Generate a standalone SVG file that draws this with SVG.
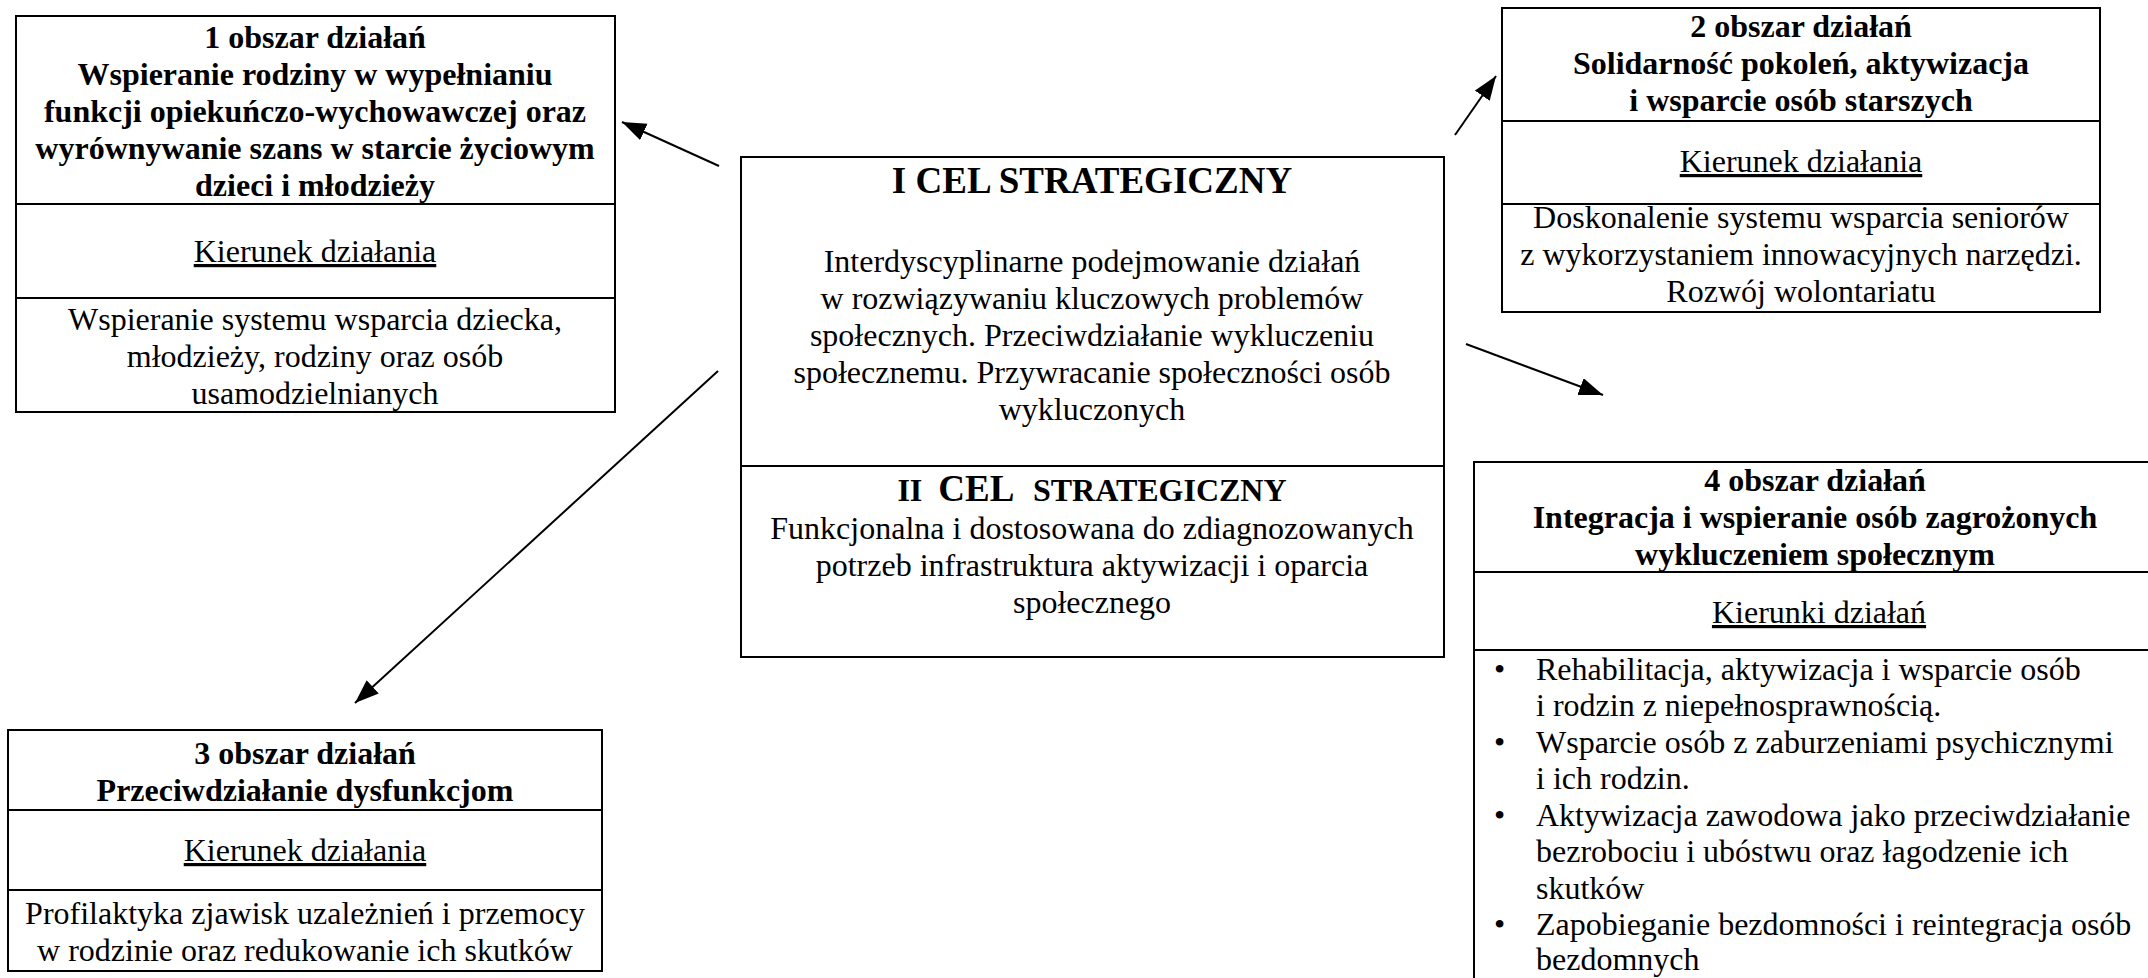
<svg xmlns="http://www.w3.org/2000/svg" width="2148" height="978" viewBox="0 0 2148 978">
<style>
.box{fill:#fff;stroke:#000;stroke-width:2}
.div{stroke:#000;stroke-width:2}
text{font-family:"Liberation Serif","Times New Roman",serif;font-size:32px;fill:#000;text-anchor:middle}
.b{font-weight:bold}
.u{text-decoration:underline}
.l{text-anchor:start}
.conn{stroke:#000;stroke-width:2;fill:none}
</style>
<defs>
<marker id="ah" markerUnits="userSpaceOnUse" markerWidth="26" markerHeight="20" refX="24" refY="9" orient="auto">
<path d="M0,0 L24,9 L0,18 Z" fill="#000"/>
</marker>
</defs>
<rect width="2148" height="978" fill="#fff"/>

<g id="node1">
<rect class="box" x="16" y="16" width="599" height="396"/>
<line class="div" x1="16" y1="204" x2="615" y2="204"/>
<line class="div" x1="16" y1="298" x2="615" y2="298"/>
<text class="b" x="315" y="48">1 obszar działań</text>
<text class="b" x="315" y="85">Wspieranie rodziny w wypełnianiu</text>
<text class="b" x="315" y="122">funkcji opiekuńczo-wychowawczej oraz</text>
<text class="b" x="315" y="159">wyrównywanie szans w starcie życiowym</text>
<text class="b" x="315" y="196">dzieci i młodzieży</text>
<text class="u" x="315" y="262">Kierunek działania</text>
<text x="315" y="330">Wspieranie systemu wsparcia dziecka,</text>
<text x="315" y="367">młodzieży, rodziny oraz osób</text>
<text x="315" y="404">usamodzielnianych</text>
</g>

<g id="center">
<rect class="box" x="741" y="157" width="703" height="500"/>
<line class="div" x1="741" y1="466" x2="1444" y2="466"/>
<text class="b" x="1092" y="193" style="font-size:37px">I CEL STRATEGICZNY</text>
<text x="1092" y="272">Interdyscyplinarne podejmowanie działań</text>
<text x="1092" y="309">w rozwiązywaniu kluczowych problemów</text>
<text x="1092" y="346">społecznych. Przeciwdziałanie wykluczeniu</text>
<text x="1092" y="383">społecznemu. Przywracanie społeczności osób</text>
<text x="1092" y="420">wykluczonych</text>
<text class="b" x="1092" y="501"><tspan style="font-size:32px">II&#160; </tspan><tspan style="font-size:37px">CEL&#160; </tspan><tspan style="font-size:32px">STRATEGICZNY</tspan></text>
<text x="1092" y="539">Funkcjonalna i dostosowana do zdiagnozowanych</text>
<text x="1092" y="576">potrzeb infrastruktura aktywizacji i oparcia</text>
<text x="1092" y="613">społecznego</text>
</g>

<g id="node2">
<rect class="box" x="1502" y="8" width="598" height="304"/>
<line class="div" x1="1502" y1="121" x2="2100" y2="121"/>
<line class="div" x1="1502" y1="204" x2="2100" y2="204"/>
<text class="b" x="1801" y="37">2 obszar działań</text>
<text class="b" x="1801" y="74">Solidarność pokoleń, aktywizacja</text>
<text class="b" x="1801" y="111">i wsparcie osób starszych</text>
<text class="u" x="1801" y="172">Kierunek działania</text>
<text x="1801" y="228">Doskonalenie systemu wsparcia seniorów</text>
<text x="1801" y="265">z wykorzystaniem innowacyjnych narzędzi.</text>
<text x="1801" y="302">Rozwój wolontariatu</text>
</g>

<g id="node3">
<rect class="box" x="8" y="730" width="594" height="241"/>
<line class="div" x1="8" y1="810" x2="602" y2="810"/>
<line class="div" x1="8" y1="890" x2="602" y2="890"/>
<text class="b" x="305" y="764">3 obszar działań</text>
<text class="b" x="305" y="801">Przeciwdziałanie dysfunkcjom</text>
<text class="u" x="305" y="861">Kierunek działania</text>
<text x="305" y="924">Profilaktyka zjawisk uzależnień i przemocy</text>
<text x="305" y="961">w rodzinie oraz redukowanie ich skutków</text>
</g>

<g id="node4">
<rect class="box" x="1474" y="462" width="700" height="540"/>
<line class="div" x1="1474" y1="572" x2="2148" y2="572"/>
<line class="div" x1="1474" y1="650" x2="2148" y2="650"/>
<text class="b" x="1815" y="491">4 obszar działań</text>
<text class="b" x="1815" y="528">Integracja i wspieranie osób zagrożonych</text>
<text class="b" x="1815" y="565">wykluczeniem społecznym</text>
<text class="u" x="1819" y="623">Kierunki działań</text>
<text class="l" x="1494" y="680">•</text>
<text class="l" x="1536" y="680">Rehabilitacja, aktywizacja i wsparcie osób</text>
<text class="l" x="1536" y="716">i rodzin z niepełnosprawnością.</text>
<text class="l" x="1494" y="753">•</text>
<text class="l" x="1536" y="753">Wsparcie osób z zaburzeniami psychicznymi</text>
<text class="l" x="1536" y="789">i ich rodzin.</text>
<text class="l" x="1494" y="826">•</text>
<text class="l" x="1536" y="826">Aktywizacja zawodowa jako przeciwdziałanie</text>
<text class="l" x="1536" y="862">bezrobociu i ubóstwu oraz łagodzenie ich</text>
<text class="l" x="1536" y="899">skutków</text>
<text class="l" x="1494" y="935">•</text>
<text class="l" x="1536" y="935">Zapobieganie bezdomności i reintegracja osób</text>
<text class="l" x="1536" y="970">bezdomnych</text>
</g>

<g id="connectors">
<line class="conn" x1="719" y1="166" x2="622" y2="122" marker-end="url(#ah)"/>
<line class="conn" x1="1455" y1="135" x2="1496" y2="76" marker-end="url(#ah)"/>
<line class="conn" x1="1466" y1="344" x2="1603" y2="395" marker-end="url(#ah)"/>
<line class="conn" x1="718" y1="371" x2="355" y2="703" marker-end="url(#ah)"/>
</g>
</svg>
